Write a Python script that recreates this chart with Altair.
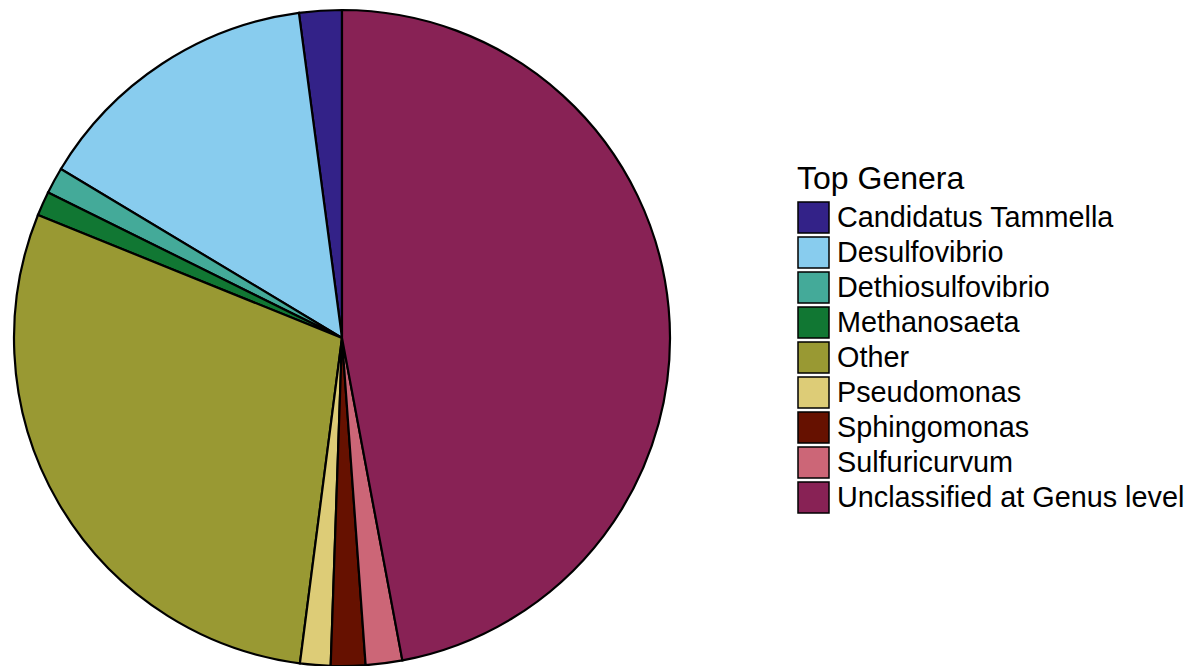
import altair as alt
import pandas as pd

genera = ["Candidatus Tammella", "Desulfovibrio", "Dethiosulfovibrio", "Methanosaeta",
          "Other", "Pseudomonas", "Sphingomonas", "Sulfuricurvum", "Unclassified at Genus level"]
shares = [2.1, 14.3, 1.3, 1.2, 29.1, 1.5, 1.7, 1.8, 47.1]
colors = ["#332288", "#88CCEE", "#44AA99", "#117733", "#999933",
          "#DDCC77", "#661100", "#CC6677", "#882255"]

df = pd.DataFrame({"genus": genera, "share": shares})

chart = alt.Chart(df).mark_arc(radius=328, stroke="black", strokeWidth=2.2).encode(
    theta=alt.Theta("share:Q", stack=True),
    color=alt.Color("genus:N", scale=alt.Scale(domain=genera, range=colors),
                    legend=alt.Legend(title="Top Genera", orient="none", legendX=789, legendY=156,
                                      titleFontSize=32, titleFont="Liberation Sans", titleFontWeight="normal",
                                      titleColor="black", labelFont="Liberation Sans", labelFontSize=28.8,
                                      labelColor="black", labelLimit=1000, symbolType="square", symbolSize=961,
                                      symbolStrokeColor="black", symbolStrokeWidth=1.5, symbolOpacity=1,
                                      labelOffset=7, rowPadding=-7.8, padding=0, titlePadding=5)),
    order=alt.Order("genus:N", sort="descending"),
    x=alt.value(334), y=alt.value(330),
).properties(width=1183, height=658, padding=0, autosize=alt.AutoSizeParams(type="none")
).configure_view(stroke=None)

chart.save("out.html", embed_options={"renderer": "svg", "actions": False})
